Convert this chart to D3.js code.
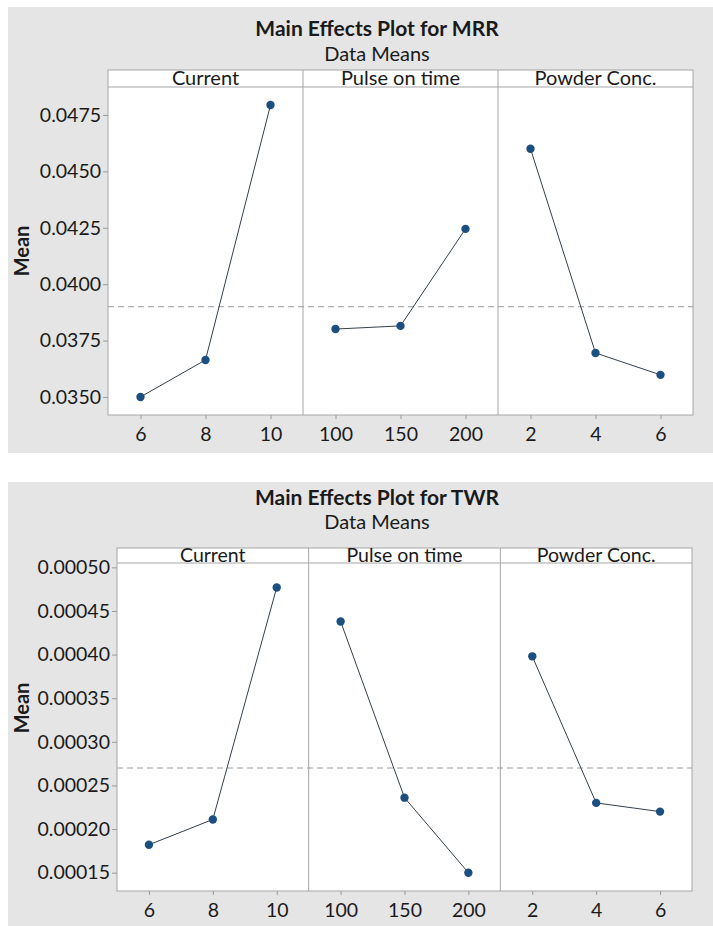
<!DOCTYPE html>
<html>
<head>
<meta charset="utf-8">
<script src="https://d3js.org/d3.v7.min.js"></script>
<title>Main Effects Plots for MRR and TWR</title>
<style>
  body { margin: 0; background: #fff; }
  text { font-family: Lato, "Open Sans", sans-serif; fill: #1a1a1a; }
</style>
</head>
<body>
<div id="my_dataviz"></div>
<script>

// factors and their levels (x categories of each panel)
var factors = ["Current", "Pulse on time", "Powder Conc."];
var currentLevels = [6, 8, 10];
var pulseLevels = [100, 150, 200];
var powderLevels = [2, 4, 6];

// MRR data means, one value per level
var mrrCurrent = [0.03500, 0.03664, 0.04794];
var mrrPulse = [0.03801, 0.03815, 0.04245];
var mrrPowder = [0.04600, 0.03695, 0.03598];
var mrrGrandMean = 0.0390;
var mrrTicks = [0.0350, 0.0375, 0.0400, 0.0425, 0.0450, 0.0475];

// TWR data means, one value per level
var twrCurrent = [0.000182, 0.000211, 0.000477];
var twrPulse = [0.000438, 0.000236, 0.000150];
var twrPowder = [0.000398, 0.000230, 0.000220];
var twrGrandMean = 0.00027;
var twrTicks = [0.00015, 0.00020, 0.00025, 0.00030, 0.00035, 0.00040, 0.00045, 0.00050];

var levels = [currentLevels, pulseLevels, powderLevels];

var svg = d3.select("#my_dataviz")
  .append("svg")
    .attr("width", 713)
    .attr("height", 926);

// draws one Minitab style main effects plot
function mainEffects(cfg) {
  var g = svg.append("g");

  // grey background
  g.append("rect")
    .attr("x", 8).attr("y", cfg.boxTop)
    .attr("width", 705).attr("height", cfg.boxBottom - cfg.boxTop)
    .attr("fill", "#e5e5e5");

  // titles
  g.append("text")
    .attr("x", 377).attr("y", cfg.titleY)
    .attr("text-anchor", "middle")
    .style("font-size", "21px").style("font-weight", "bold")
    .text(cfg.title);
  g.append("text")
    .attr("x", 377).attr("y", cfg.subY)
    .attr("text-anchor", "middle")
    .style("font-size", "20px")
    .text("Data Means");

  var y = d3.scaleLinear()
    .domain(cfg.domain)
    .range([cfg.plotBottom, cfg.plotTop]);

  var panel = d3.scaleBand()
    .domain(factors)
    .range([cfg.left, cfg.right]);

  // white plot area + strip
  g.append("rect")
    .attr("x", cfg.left).attr("y", cfg.stripTop)
    .attr("width", cfg.right - cfg.left)
    .attr("height", cfg.plotBottom - cfg.stripTop)
    .attr("fill", "#fff")
    .attr("stroke", "#a6a6a6");
  g.append("line")
    .attr("x1", cfg.left).attr("x2", cfg.right)
    .attr("y1", cfg.plotTop).attr("y2", cfg.plotTop)
    .attr("stroke", "#a6a6a6");

  // y axis
  var yAxis = g.append("g")
    .attr("transform", "translate(" + cfg.left + ",0)")
    .call(d3.axisLeft(y).tickValues(cfg.ticks).tickFormat(d3.format(cfg.fmt)).tickSize(5).tickPadding(2));
  yAxis.select(".domain").remove();
  yAxis.selectAll("line").attr("stroke", "#9a9a9a");
  yAxis.selectAll("text")
    .attr("font-family", "Lato, 'Open Sans', sans-serif")
    .attr("font-size", 19.5)
    .attr("fill", "#1a1a1a");

  // grand mean reference line
  g.append("line")
    .attr("x1", cfg.left).attr("x2", cfg.right)
    .attr("y1", y(cfg.grandMean)).attr("y2", y(cfg.grandMean))
    .attr("stroke", "#9c9c9c")
    .attr("stroke-dasharray", "6,4");

  // Mean label
  g.append("text")
    .attr("transform", "translate(" + 29 + "," + cfg.meanY + ")rotate(-90)")
    .attr("text-anchor", "middle")
    .style("font-size", "20px").style("font-weight", "bold")
    .text("Mean");

  factors.forEach(function(f, i) {
    var x0 = panel(f), x1 = x0 + panel.bandwidth();
    var x = d3.scalePoint()
      .domain(levels[i])
      .range([x0, x1])
      .padding(0.5);

    if (i > 0) {
      g.append("line")
        .attr("x1", x0).attr("x2", x0)
        .attr("y1", cfg.stripTop).attr("y2", cfg.plotBottom)
        .attr("stroke", "#a6a6a6");
    }

    g.append("text")
      .attr("x", (x0 + x1) / 2).attr("y", cfg.stripBase)
      .attr("text-anchor", "middle")
      .style("font-size", cfg.stripSize + "px")
      .text(f);

    var xAxis = g.append("g")
      .attr("transform", "translate(0," + cfg.plotBottom + ")")
      .call(d3.axisBottom(x).tickSize(4).tickPadding(8));
    xAxis.select(".domain").remove();
    xAxis.selectAll("line").attr("stroke", "#9a9a9a");
    xAxis.selectAll("text")
      .attr("font-family", "Lato, 'Open Sans', sans-serif")
      .attr("font-size", 19.5)
      .attr("fill", "#1a1a1a");

    var pts = levels[i].map(function(l, j) { return [l, cfg.series[i][j]]; });

    g.append("path")
      .datum(pts)
      .attr("fill", "none")
      .attr("stroke", "#34404c")
      .attr("stroke-width", 1)
      .attr("d", d3.line()
        .x(function(d) { return x(d[0]); })
        .y(function(d) { return y(d[1]); }));

    g.selectAll(null)
      .data(pts)
      .enter().append("circle")
        .attr("cx", function(d) { return x(d[0]); })
        .attr("cy", function(d) { return y(d[1]); })
        .attr("r", 4.2)
        .attr("fill", "#1b4f80");
  });
}

mainEffects({
  title: "Main Effects Plot for MRR",
  boxTop: 7, boxBottom: 453,
  titleY: 36, subY: 61,
  stripTop: 70, stripBase: 85, stripSize: 20,
  plotTop: 87, plotBottom: 415,
  left: 108, right: 693,
  domain: [0.0342, 0.04874],
  ticks: mrrTicks, fmt: ".4f",
  grandMean: mrrGrandMean,
  meanY: 251,
  series: [mrrCurrent, mrrPulse, mrrPowder]
});

mainEffects({
  title: "Main Effects Plot for TWR",
  boxTop: 482, boxBottom: 926,
  titleY: 505, subY: 529,
  stripTop: 548, stripBase: 562, stripSize: 19.5,
  plotTop: 563, plotBottom: 891,
  left: 117, right: 692,
  domain: [0.000129, 0.000505],
  ticks: twrTicks, fmt: ".5f",
  grandMean: twrGrandMean,
  meanY: 708,
  series: [twrCurrent, twrPulse, twrPowder]
});

</script>
</body>
</html>
